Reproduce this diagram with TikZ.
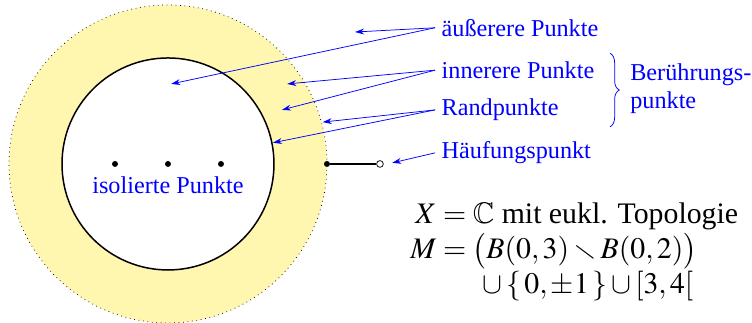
\documentclass[tikz,border=0pt]{standalone}
\usepackage{amsmath,amssymb}
\usepackage[no-math]{fontspec}
\usepackage{mathptmx}
\setmainfont{Liberation Serif}
\usepackage{xcolor}
\usepackage{tikz}
\usetikzlibrary{arrows.meta,positioning,calc,decorations.pathreplacing}
\definecolor{annulus}{RGB}{255,246,176}

\begin{document}
\begin{tikzpicture}[x=1cm,y=1cm,font=\fontsize{13}{15.5}\selectfont,
  lbl/.style={text=blue, anchor=west},
  pfeil/.style={blue, thin, -{Stealth[length=1.7mm,width=1.1mm]}},
  punkt/.style={circle, fill=black, inner sep=0pt, minimum size=3.2pt}]
\useasboundingbox (-3.17,-3.0) rectangle (11.02,3.094);

% --- Menge M ---
\draw[fill=annulus, dotted, thin] (0,0) circle (3);
\draw[fill=white, thick] (0,0) circle (2);

% isolierte Punkte
\foreach \x/\n in {-1/a, 0/b, 1/c} {
  \node[punkt] (iso\n) at (\x,0) {};
}
\node[text=blue] (isolab) at (0,-0.4) {isolierte Punkte};

% Intervall [3,4[
\node[punkt] (drei) at (3,0) {};
\node[circle, draw=black, fill=white, inner sep=0pt, minimum size=3.6pt] (vier) at (4,0) {};
\draw[thick] (drei) -- (vier);

% Ziele der Pfeile
\coordinate (aus1) at (3.53,2.49);
\coordinate (aus2) at (0.06,1.51);
\coordinate (inn1) at (2.25,1.51);
\coordinate (inn2) at (2.15,1.02);
\coordinate (rand1) at (2.92,0.79);
\coordinate (rand2) at (1.98,0.40);
\coordinate (hauf) at (4.23,0.02);

% --- Beschriftungen ---
\node[lbl] (aussen) at (5.04,2.57) {äußerere Punkte};
\node[lbl] (innen) at (5.04,1.77) {innerere Punkte};
\node[lbl] (rand) at (5.04,1.02) {Randpunkte};
\node[lbl] (haeuf) at (5.04,0.21) {Häufungspunkt};

\draw[pfeil] (aussen.west) -- (aus1);
\draw[pfeil] (aussen.west) -- (aus2);
\draw[pfeil] (innen.west) -- (inn1);
\draw[pfeil] (innen.west) -- (inn2);
\draw[pfeil] (rand.west) -- (rand1);
\draw[pfeil] (rand.west) -- (rand2);
\draw[pfeil] (haeuf.west) -- (hauf);

% Klammer
\coordinate (kl1) at (8.34,2.09);
\coordinate (kl2) at (8.34,0.70);
\draw[blue, thin, decorate, decoration={brace, amplitude=5pt}] (kl1) -- (kl2);
\node[lbl, align=left] (beruehr) at (8.6,1.42) {Berührungs-\\punkte};

% --- Formel ---
\node[anchor=west, font=\fontsize{16}{14}\selectfont] (formel) at (4.45,-1.66) {$\begin{aligned}
  X &= \mathbb{C} \text{ mit eukl. Topologie}\\[-3pt]
  M &= \bigl(B(0,3)\smallsetminus B(0,2)\bigr)\\[-3pt]
    &\hspace{1.4em} \cup\{\,0,\pm1\,\}\cup[3,4[
\end{aligned}$};
\end{tikzpicture}
\end{document}
